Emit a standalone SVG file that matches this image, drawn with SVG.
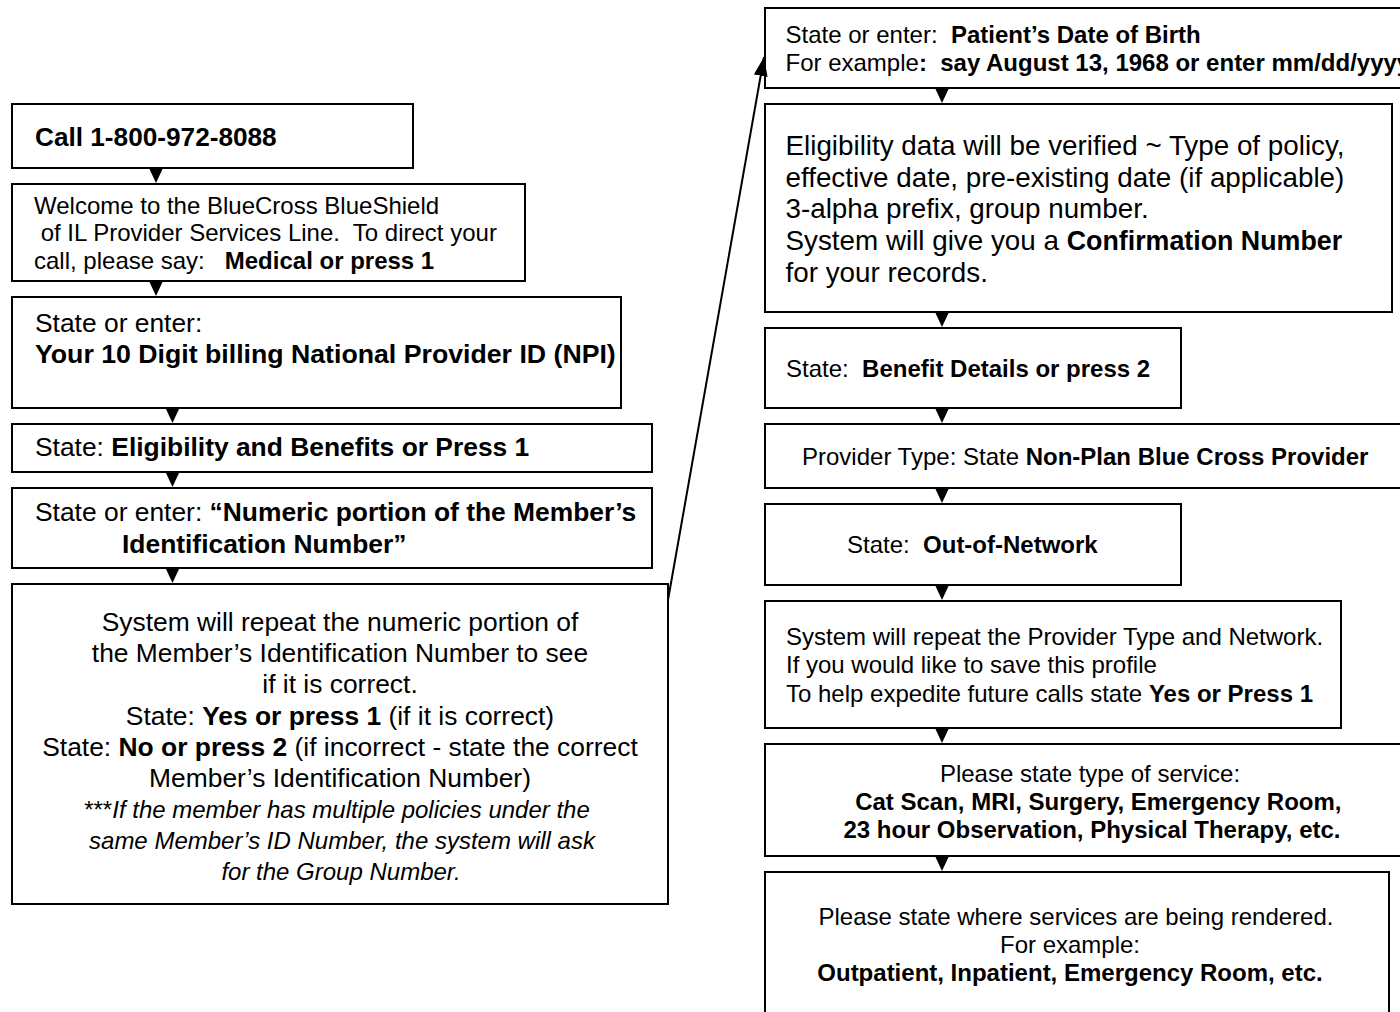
<svg xmlns="http://www.w3.org/2000/svg" xmlns:xlink="http://www.w3.org/1999/xlink" width="1400" height="1012" viewBox="0 0 1400 1012">
<style>
.box{fill:#fff;stroke:#000;stroke-width:2}
text{font-family:"Liberation Sans",Arial,Helvetica,sans-serif;fill:#000;white-space:pre}
.b{font-weight:bold}
.i{font-style:italic}
.s24{font-size:24px}
.s26{font-size:26.4px}
.s28{font-size:27.8px}
.mid{text-anchor:middle}
.link{stroke:#000;stroke-width:2;fill:none}
</style>
<defs>
<path id="tri" d="M-7,0 L7,0 L0,15 Z" fill="#000"/>
<marker id="ah" markerUnits="userSpaceOnUse" markerWidth="20" markerHeight="14" refX="19" refY="7" orient="auto">
<path d="M0,0 L19,7 L0,14 Z" fill="#000"/>
</marker>
</defs>
<rect width="1400" height="1012" fill="#fff"/>

<g id="node-call">
<rect class="box" x="12" y="104" width="401" height="64"/>
<text class="b" x="35" y="146" font-size="26.2">Call 1-800-972-8088</text>
</g>

<g id="node-welcome">
<rect class="box" x="12" y="184" width="513" height="97"/>
<text class="s24" x="34" y="214">Welcome to the BlueCross BlueShield</text>
<text class="s24" x="34" y="241"> of IL Provider Services Line.  To direct your</text>
<text class="s24" x="34" y="269">call, please say:   <tspan class="b">Medical or press 1</tspan></text>
</g>

<g id="node-npi">
<rect class="box" x="12" y="297" width="609" height="111"/>
<text class="s26" x="35" y="332">State or enter:</text>
<text class="b" x="35" y="363" font-size="26.7">Your 10 Digit billing National Provider ID (NPI)</text>
</g>

<g id="node-eligibility">
<rect class="box" x="12" y="424" width="640" height="48"/>
<text class="s26" x="35" y="456">State: <tspan class="b">Eligibility and Benefits or Press 1</tspan></text>
</g>

<g id="node-member-id">
<rect class="box" x="12" y="488" width="640" height="80"/>
<text class="s26" x="35" y="521">State or enter: <tspan class="b">“Numeric portion of the Member’s</tspan></text>
<text class="s26 b" x="122" y="553">Identification Number”</text>
</g>

<g id="node-repeat">
<rect class="box" x="12" y="584" width="656" height="320"/>
<text class="s26 mid" x="340" y="631">System will repeat the numeric portion of</text>
<text class="s26 mid" x="340" y="662">the Member’s Identification Number to see</text>
<text class="s26 mid" x="340" y="693">if it is correct.</text>
<text class="s26 mid" x="340" y="725">State: <tspan class="b">Yes or press 1</tspan> (if it is correct)</text>
<text class="s26 mid" x="340" y="756">State: <tspan class="b">No or press 2</tspan> (if incorrect - state the correct</text>
<text class="s26 mid" x="340" y="787">Member’s Identification Number)</text>
<text class="s24 mid" x="337" y="818"><tspan>***</tspan><tspan class="i">If the member has multiple policies under the</tspan></text>
<text class="s24 mid i" x="342" y="849">same Member’s ID Number, the system will ask</text>
<text class="s24 mid i" x="341" y="880">for the Group Number.</text>
</g>

<g id="node-dob">
<rect class="box" x="765" y="8" width="645" height="80"/>
<text class="s24" x="785.5" y="43">State or enter:  <tspan class="b">Patient’s Date of Birth</tspan></text>
<text class="s24" x="785.5" y="71">For example<tspan class="b">:  say August 13, 1968 or enter mm/dd/yyyy</tspan></text>
</g>

<g id="node-verified">
<rect class="box" x="765" y="104" width="627" height="208"/>
<text class="s28" x="785.5" y="155">Eligibility data will be verified ~ Type of policy,</text>
<text class="s28" x="785.5" y="187">effective date, pre-existing date (if applicable)</text>
<text class="s28" x="785.5" y="218">3-alpha prefix, group number.</text>
<text class="s28" x="785.5" y="250">System will give you a <tspan class="b" font-size="26.8">Confirmation Number</tspan></text>
<text class="s28" x="785.5" y="282">for your records.</text>
</g>

<g id="node-benefit">
<rect class="box" x="765" y="328" width="416" height="80"/>
<text class="s24" x="786" y="377">State:  <tspan class="b">Benefit Details or press 2</tspan></text>
</g>

<g id="node-provider-type">
<rect class="box" x="765" y="424" width="645" height="64"/>
<text class="s24" x="802" y="465">Provider Type: State <tspan class="b">Non-Plan Blue Cross Provider</tspan></text>
</g>

<g id="node-network">
<rect class="box" x="765" y="504" width="416" height="81"/>
<text class="s24" x="847" y="553">State:  <tspan class="b">Out-of-Network</tspan></text>
</g>

<g id="node-profile">
<rect class="box" x="765" y="601" width="576" height="127"/>
<text class="s24" x="786" y="645" font-size="24.3">System will repeat the Provider Type and Network.</text>
<text class="s24" x="786" y="673" font-size="24.3">If you would like to save this profile</text>
<text class="s24" x="786" y="702" font-size="24.3">To help expedite future calls state <tspan class="b">Yes or Press 1</tspan></text>
</g>

<g id="node-service-type">
<rect class="box" x="765" y="744" width="655" height="112"/>
<text class="s24 mid" x="1090" y="782">Please state type of service:</text>
<text class="s24 mid b" x="1095" y="810"> Cat Scan, MRI, Surgery, Emergency Room,</text>
<text class="s24 mid b" x="1092" y="838">23 hour Observation, Physical Therapy, etc.</text>
</g>

<g id="node-place">
<rect class="box" x="765" y="872" width="624" height="160"/>
<text class="s24 mid" x="1076" y="925">Please state where services are being rendered.</text>
<text class="s24 mid" x="1070" y="953">For example:</text>
<text class="s24 mid b" x="1070" y="981">Outpatient, Inpatient, Emergency Room, etc.</text>
</g>

<g id="connectors">
<use xlink:href="#tri" x="156" y="168"/>
<use xlink:href="#tri" x="156" y="281"/>
<use xlink:href="#tri" x="172.5" y="408"/>
<use xlink:href="#tri" x="172.5" y="472"/>
<use xlink:href="#tri" x="172.5" y="568"/>
<use xlink:href="#tri" x="942" y="88"/>
<use xlink:href="#tri" x="942" y="312"/>
<use xlink:href="#tri" x="942" y="408"/>
<use xlink:href="#tri" x="942" y="488"/>
<use xlink:href="#tri" x="942" y="585"/>
<use xlink:href="#tri" x="942" y="728"/>
<use xlink:href="#tri" x="942" y="856"/>
<line class="link" x1="668" y1="600" x2="764" y2="57" marker-end="url(#ah)"/>
</g>
</svg>
